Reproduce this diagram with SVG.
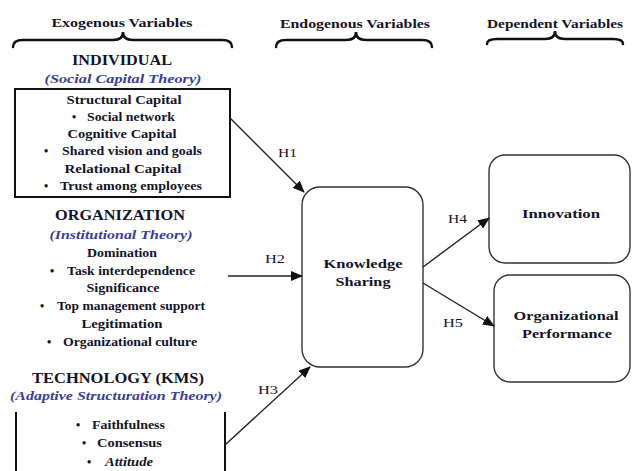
<svg xmlns="http://www.w3.org/2000/svg" width="632" height="471" viewBox="0 0 632 471" font-family="Liberation Serif, DejaVu Serif, Times New Roman, serif">
<style>
text{font-family:'Liberation Serif','DejaVu Serif','Times New Roman',serif;font-weight:bold;fill:#141428;text-anchor:middle}
.hd{font-size:12.5px}
.big{font-size:15px}
.sub{font-size:12px}
.it{font-size:12.5px;font-style:italic;fill:#3b3f96}
.lb{font-size:12px;font-weight:normal;text-anchor:start}
.bl{text-anchor:start}
.brace{fill:none;stroke:#111;stroke-width:2.5;stroke-linecap:round}
.box{fill:none;stroke:#111;stroke-width:2}
.rnd{fill:#fff;stroke:#333;stroke-width:1.4}
.con{stroke:#222;stroke-width:1.4;fill:none;marker-end:url(#ah)}
</style>
<defs>
<marker id="ah" markerUnits="userSpaceOnUse" markerWidth="12" markerHeight="10" refX="11" refY="5" orient="auto">
<path d="M0,0 L12,5 L0,10 Z" fill="#111"/>
</marker>
</defs>
<rect width="632" height="471" fill="#fff"/>

<g id="headers">
<text class="hd" x="122" y="27" textLength="141" lengthAdjust="spacingAndGlyphs">Exogenous Variables</text>
<path class="brace" d="M13,47 Q13,40 23,40 L113,40 Q123,40 123,32 Q123,40 133,40 L222,40 Q232,40 232,47"/>
<text class="hd" x="355" y="28" textLength="150" lengthAdjust="spacingAndGlyphs">Endogenous Variables</text>
<path class="brace" d="M276,47 Q276,40 286,40 L346,40 Q356,40 356,32 Q356,40 366,40 L422,40 Q432,40 432,47"/>
<text class="hd" x="555" y="28" textLength="136" lengthAdjust="spacingAndGlyphs">Dependent Variables</text>
<path class="brace" d="M487,44 Q487,39 497,39 L545,39 Q555,39 555,31 Q555,39 565,39 L613,39 Q623,39 623,44"/>
</g>

<g id="individual">
<text class="big" x="122" y="65" textLength="100" lengthAdjust="spacingAndGlyphs">INDIVIDUAL</text>
<text class="it" x="123" y="83" textLength="157" lengthAdjust="spacingAndGlyphs">(Social Capital Theory)</text>
<rect class="box" x="15" y="89" width="215" height="108"/>
<text class="sub" x="124" y="104" textLength="115" lengthAdjust="spacingAndGlyphs">Structural Capital</text>
<text class="sub bl" x="72" y="121">•</text>
<text class="sub bl" x="87" y="121" textLength="88" lengthAdjust="spacingAndGlyphs">Social network</text>
<text class="sub" x="122" y="138" textLength="109" lengthAdjust="spacingAndGlyphs">Cognitive Capital</text>
<text class="sub bl" x="44" y="155">•</text>
<text class="sub bl" x="62" y="155" textLength="140" lengthAdjust="spacingAndGlyphs">Shared vision and goals</text>
<text class="sub" x="123" y="173" textLength="117" lengthAdjust="spacingAndGlyphs">Relational Capital</text>
<text class="sub bl" x="44" y="190">•</text>
<text class="sub bl" x="60" y="190" textLength="142" lengthAdjust="spacingAndGlyphs">Trust among employees</text>
</g>

<g id="organization">
<text class="big" x="120" y="220" textLength="130" lengthAdjust="spacingAndGlyphs">ORGANIZATION</text>
<text class="it" x="121" y="239" textLength="143" lengthAdjust="spacingAndGlyphs">(Institutional Theory)</text>
<text class="sub" x="122" y="257" textLength="70" lengthAdjust="spacingAndGlyphs">Domination</text>
<text class="sub bl" x="50" y="275">•</text>
<text class="sub bl" x="67" y="275" textLength="128" lengthAdjust="spacingAndGlyphs">Task interdependence</text>
<text class="sub" x="123" y="292" textLength="73" lengthAdjust="spacingAndGlyphs">Significance</text>
<text class="sub bl" x="40" y="310">•</text>
<text class="sub bl" x="57" y="310" textLength="148" lengthAdjust="spacingAndGlyphs">Top management support</text>
<text class="sub" x="122" y="328" textLength="81" lengthAdjust="spacingAndGlyphs">Legitimation</text>
<text class="sub bl" x="47" y="346">•</text>
<text class="sub bl" x="63" y="346" textLength="134" lengthAdjust="spacingAndGlyphs">Organizational culture</text>
</g>

<g id="technology">
<text class="big" x="118" y="383" textLength="172" lengthAdjust="spacingAndGlyphs">TECHNOLOGY (KMS)</text>
<text class="it" x="116" y="400" textLength="212" lengthAdjust="spacingAndGlyphs">(Adaptive Structuration Theory)</text>
<line x1="16" y1="412" x2="16" y2="471" stroke="#111" stroke-width="2"/>
<line x1="225" y1="412" x2="225" y2="471" stroke="#111" stroke-width="2"/>
<text class="sub bl" x="76" y="429">•</text>
<text class="sub bl" x="92" y="429" textLength="73" lengthAdjust="spacingAndGlyphs">Faithfulness</text>
<text class="sub bl" x="82" y="447">•</text>
<text class="sub bl" x="97" y="447" textLength="65" lengthAdjust="spacingAndGlyphs">Consensus</text>
<text class="sub bl" x="87" y="466">•</text>
<text class="sub bl" x="105" y="466" style="font-style:italic" textLength="48" lengthAdjust="spacingAndGlyphs">Attitude</text>
</g>

<g id="knowledge-sharing">
<rect class="rnd" x="302" y="187" width="121" height="180" rx="18"/>
<text class="sub" x="363" y="268" textLength="79" lengthAdjust="spacingAndGlyphs">Knowledge</text>
<text class="sub" x="363" y="286" textLength="55" lengthAdjust="spacingAndGlyphs">Sharing</text>
</g>

<g id="innovation">
<rect class="rnd" x="489" y="155" width="141" height="108" rx="16"/>
<text class="sub" x="561" y="218" textLength="78" lengthAdjust="spacingAndGlyphs">Innovation</text>
</g>

<g id="org-performance">
<rect class="rnd" x="494" y="275" width="136" height="107" rx="16"/>
<text class="sub" x="566" y="320" textLength="105" lengthAdjust="spacingAndGlyphs">Organizational</text>
<text class="sub" x="567" y="338" textLength="90" lengthAdjust="spacingAndGlyphs">Performance</text>
</g>

<g id="connectors">
<line class="con" x1="230" y1="118" x2="304" y2="192"/>
<line class="con" x1="228" y1="276" x2="302" y2="276"/>
<line class="con" x1="225" y1="445" x2="310" y2="367"/>
<line class="con" x1="423" y1="267" x2="489" y2="218"/>
<line class="con" x1="423" y1="283" x2="494" y2="326"/>
<text class="lb" x="278" y="157" textLength="19" lengthAdjust="spacingAndGlyphs">H1</text>
<text class="lb" x="265" y="263" textLength="20" lengthAdjust="spacingAndGlyphs">H2</text>
<text class="lb" x="258" y="394" textLength="20" lengthAdjust="spacingAndGlyphs">H3</text>
<text class="lb" x="448" y="223" textLength="19" lengthAdjust="spacingAndGlyphs">H4</text>
<text class="lb" x="443" y="327" textLength="20" lengthAdjust="spacingAndGlyphs">H5</text>
</g>
</svg>
